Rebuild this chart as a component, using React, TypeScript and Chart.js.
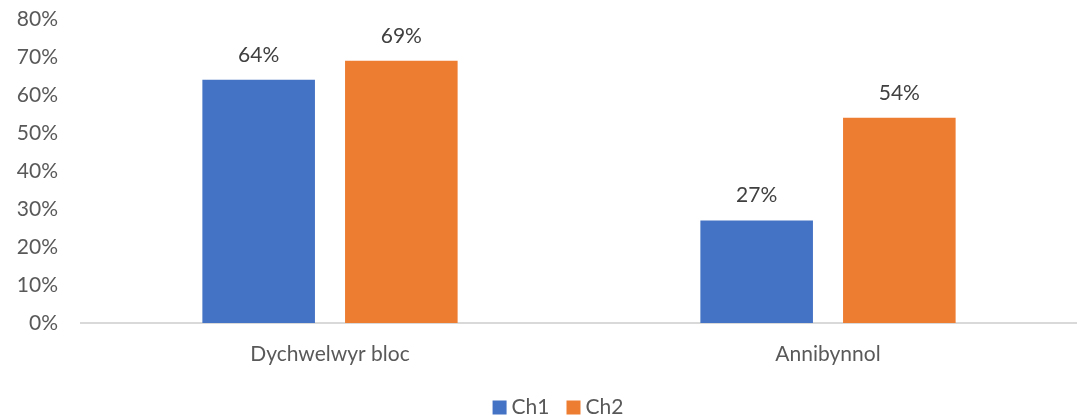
import React, { useEffect, useRef } from "react";
import { Chart, registerables } from "chart.js";

Chart.register(...registerables);

const categories = ["Dychwelwyr bloc", "Annibynnol"];
const ch1Values = [64, 27];
const ch2Values = [69, 54];
const seriesNames = ["Ch1", "Ch2"];
const yTicks = [0, 10, 20, 30, 40, 50, 60, 70, 80];

const FONT = "Lato, 'Liberation Sans', sans-serif";
const FS = 21;

const dataLabels = {
  id: "dataLabels",
  afterDatasetsDraw(chart: any) {
    const ctx = chart.ctx;
    ctx.save();
    ctx.font = `${FS}px ${FONT}`;
    ctx.fillStyle = "#404040";
    ctx.textAlign = "center";
    ctx.textBaseline = "alphabetic";
    chart.data.datasets.forEach((ds: any, i: number) => {
      const meta = chart.getDatasetMeta(i);
      meta.data.forEach((bar: any, j: number) => {
        ctx.fillText(`${ds.data[j]}%`, bar.x, bar.y - 18);
      });
    });
    ctx.restore();
  },
};

// Excel-style legend drawn below the axis labels
const customLegend = {
  id: "customLegend",
  afterDraw(chart: any) {
    const ctx = chart.ctx;
    const box = 14;
    const textGap = 5;
    const itemGap = 17;
    const cy = 407.5;
    const centerX = 558;
    ctx.save();
    ctx.font = `${FS}px ${FONT}`;
    const items = chart.data.datasets.map((ds: any) => ({
      label: ds.label,
      color: ds.backgroundColor,
      w: box + textGap + ctx.measureText(ds.label).width,
    }));
    const total = items.reduce((a: number, it: any) => a + it.w, 0) + itemGap * (items.length - 1);
    let x = centerX - total / 2;
    ctx.textBaseline = "middle";
    ctx.textAlign = "left";
    items.forEach((it: any) => {
      ctx.fillStyle = it.color;
      ctx.fillRect(x, cy - box / 2, box, box);
      ctx.fillStyle = "#595959";
      ctx.fillText(it.label, x + box + textGap, cy);
      x += it.w + itemGap;
    });
    ctx.restore();
  },
};

export default function App() {
  const ref = useRef<HTMLCanvasElement>(null);
  useEffect(() => {
    const chart = new Chart(ref.current!, {
      type: "bar",
      data: {
        labels: categories,
        datasets: [
          { label: seriesNames[0], data: ch1Values, backgroundColor: "#4472C4" },
          { label: seriesNames[1], data: ch2Values, backgroundColor: "#ED7D31" },
        ],
      },
      options: {
        animation: false,
        responsive: false,
        maintainAspectRatio: false,
        layout: { padding: { top: 0, right: 0, left: 0, bottom: 25 } },
        datasets: { bar: { categoryPercentage: 0.573, barPercentage: 0.789 } },
        plugins: {
          tooltip: { enabled: false },
          legend: { display: false },
        },
        scales: {
          x: {
            grid: { display: false, drawTicks: false },
            border: { display: true, color: "#D9D9D9", width: 2 },
            ticks: { color: "#595959", font: { family: FONT, size: FS }, padding: 19 },
            afterFit: (s: any) => { s.height = 71; },
          },
          y: {
            min: 0,
            max: 80,
            grid: { display: false, drawTicks: false },
            border: { display: false },
            afterBuildTicks: (s: any) => { s.ticks = yTicks.map((v) => ({ value: v })); },
            ticks: {
              color: "#595959",
              font: { family: FONT, size: FS },
              padding: 23,
              callback: (v: any) => `${v}%`,
            },
            afterFit: (s: any) => {
              s.width = 81;
              s.paddingTop = 19;
              s.paddingBottom = 0;
            },
          },
        },
      },
      plugins: [dataLabels, customLegend],
    });
    return () => chart.destroy();
  }, []);
  return (
    <div style={{ position: "fixed", left: 0, top: 0, width: 1077, height: 419, background: "#fff" }}>
      <canvas ref={ref} width={1077} height={419} />
    </div>
  );
}
